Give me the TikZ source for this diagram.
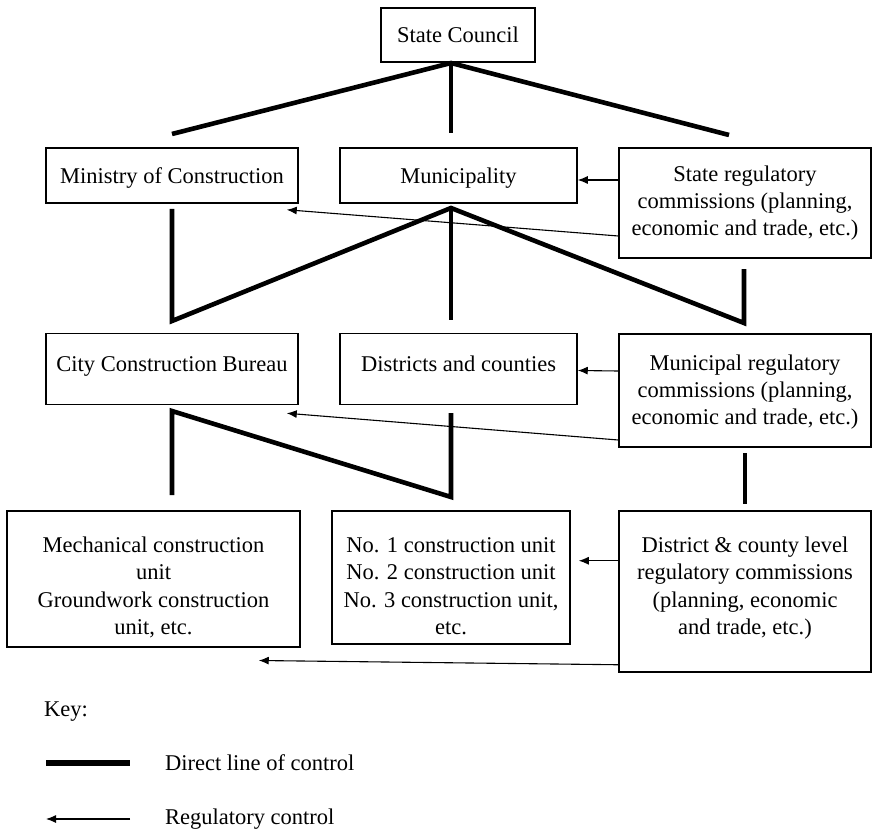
\documentclass[tikz,border=0pt]{standalone}
\usepackage{fontspec}
\setmainfont{Liberation Serif}
\usepackage{tikz}
\usetikzlibrary{arrows.meta,positioning,calc}

\tikzset{
    orgbox/.style={draw, line width=0.75pt, align=center, inner xsep=2pt, inner ysep=0pt,
        font=\fontsize{11.25pt}{13.6pt}\selectfont},
    ctrl/.style={line width=2.3pt, line join=miter},
    regline/.style={line width=0.55pt, -{Latex[length=5pt,width=4pt]}},
}

\begin{document}
\begin{tikzpicture}[x=0.5pt,y=-0.5pt]
    \useasboundingbox (0,0) rectangle (872,834);

    % Top level
    \node[orgbox, minimum width=77pt, minimum height=27pt] (council) at (458,35) {State Council};

    % Second row
    \node[orgbox, minimum width=126pt, minimum height=27.5pt, text height=10.8pt, text depth=2.4pt] (ministry) at (172,175.5) {Ministry of Construction};
    \node[orgbox, minimum width=118.5pt, minimum height=27.5pt, text height=10.8pt, text depth=2.4pt] (municipality) at (458.5,175.5) {Municipality};
    \node[orgbox, minimum width=126pt, minimum height=55pt] (statereg) at (745,203)
        {State regulatory\\commissions (planning,\\economic and trade, etc.)};

    % Third row
    \node[orgbox, minimum width=126pt, text height=19pt, text depth=16.5pt] (bureau) at (172,369) {City Construction Bureau};
    \node[orgbox, minimum width=118.5pt, text height=19pt, text depth=16.5pt] (districts) at (458.5,369) {Districts and counties};
    \node[orgbox, minimum width=126pt, minimum height=56.5pt, text height=36.5pt, text depth=2.4pt] (munireg) at (745,390.5)
        {Municipal regulatory\\commissions (planning,\\economic and trade, etc.)};

    % Bottom row
    \node[orgbox, anchor=north, minimum width=146.5pt, text height=61.8pt, text depth=6.2pt] (mech) at (153.5,510)
        {Mechanical construction\\unit\\Groundwork construction\\unit, etc.};
    \node[orgbox, anchor=north, minimum width=119pt, text height=61.8pt, text depth=4.7pt] (units) at (451,510)
        {No. 1 construction unit\\No. 2 construction unit\\No. 3 construction unit,\\etc.};
    \node[orgbox, anchor=north, minimum width=126pt, text height=61.8pt, text depth=18.7pt] (distreg) at (745,510)
        {District \& county level\\regulatory commissions\\(planning, economic\\and trade, etc.)};

    % Direct lines of control
    \coordinate (c0) at (451,63);
    \coordinate (c1) at (172,134);
    \coordinate (c2) at (451,133);
    \coordinate (c3) at (729,135);
    \draw[ctrl] (c1) -- (c0) -- (c3);
    \draw[ctrl] (c0) -- (c2);

    \coordinate (m0) at (451,208);
    \coordinate (m1) at (172,209);
    \coordinate (m2) at (172,321);
    \coordinate (m3) at (451,320);
    \coordinate (m4) at (744,323);
    \coordinate (m5) at (744,269);
    \draw[ctrl] (m1) -- (m2) -- (m0) -- (m4) -- (m5);
    \draw[ctrl] (m0) -- (m3);

    \coordinate (b1) at (172,495);
    \coordinate (b2) at (172,411);
    \coordinate (b3) at (451,497);
    \coordinate (b4) at (451,413);
    \coordinate (b5) at (745,453);
    \coordinate (b6) at (745,504);
    \draw[ctrl] (b1) -- (b2) -- (b3) -- (b4);
    \draw[ctrl] (b5) -- (b6);

    % Regulatory control
    \draw[regline] ([yshift=11.5pt]statereg.west) -- ([yshift=-2.25pt]municipality.east);
    \draw[regline] ([yshift=-16.5pt]statereg.west) -- ([shift={(-6pt,-3pt)}]ministry.south east);
    \draw[regline] ([yshift=9.75pt]munireg.west) -- ([yshift=-0.75pt]districts.east);
    \draw[regline] ([yshift=-24.75pt]munireg.west) -- ([shift={(-6pt,-4pt)}]bureau.south east);
    \draw[regline] ([yshift=15.25pt]distreg.west) -- ([shift={(4pt,8.25pt)}]units.east);
    \draw[regline] ([yshift=-36.75pt]distreg.west) -- ([shift={(-21pt,-6.5pt)}]mech.south east);

    % Key
    \node[anchor=west, font=\fontsize{11.25pt}{13.6pt}\selectfont] (key) at (37,712) {Key:};
    \coordinate (k1) at (46,763);
    \coordinate (k2) at (130,763);
    \draw[ctrl, line width=2.8pt] (k1) -- (k2);
    \node[anchor=west, font=\fontsize{11.25pt}{13.6pt}\selectfont] (directtxt) at (158,763) {Direct line of control};
    \coordinate (k3) at (130,819);
    \coordinate (k4) at (46,819);
    \draw[regline] (k3) -- (k4);
    \node[anchor=west, font=\fontsize{11.25pt}{13.6pt}\selectfont] (regtxt) at (158,819) {Regulatory control};
\end{tikzpicture}
\end{document}
